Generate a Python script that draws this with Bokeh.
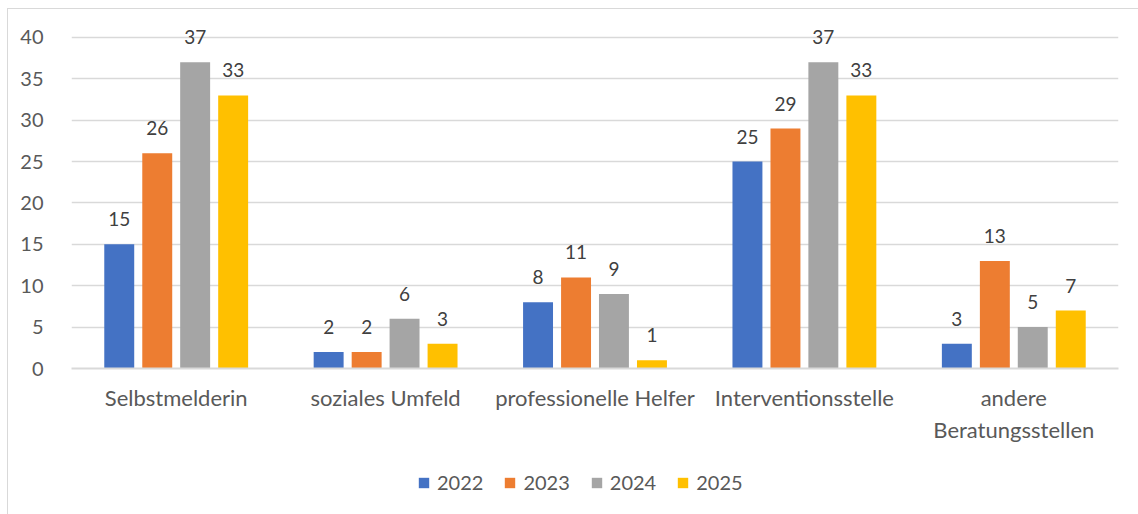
from bokeh.plotting import figure
from bokeh.models import ColumnDataSource, FactorRange, Range1d, FixedTicker, Legend, LegendItem
from bokeh.layouts import column
from bokeh.transform import dodge
from bokeh.core.properties import value
from bokeh.embed import file_html
from bokeh.resources import INLINE

categories = ["Selbstmelderin", "soziales Umfeld", "professionelle Helfer",
              "Interventionsstelle", "andere\nBeratungsstellen"]
years = ["2022", "2023", "2024", "2025"]
v2022 = [15, 2, 8, 25, 3]
v2023 = [26, 2, 11, 29, 13]
v2024 = [37, 6, 9, 37, 5]
v2025 = [33, 3, 1, 33, 7]
y_ticks = [0, 5, 10, 15, 20, 25, 30, 35, 40]

colors = ["#4472C4", "#ED7D31", "#A5A5A5", "#FFC000"]
offsets = [-0.272, -0.0905, 0.0905, 0.272]
FONT = "Lato"

src = ColumnDataSource(dict(
    cat=categories,
    v2022=v2022, v2023=v2023, v2024=v2024, v2025=v2025,
    t2022=[str(v) for v in v2022], t2023=[str(v) for v in v2023],
    t2024=[str(v) for v in v2024], t2025=[str(v) for v in v2025],
))

p = figure(width=1130, height=446, output_backend="svg", toolbar_location=None,
           x_range=FactorRange(*categories, factor_padding=0, range_padding=0),
           y_range=Range1d(0, 42.05),
           min_border_left=63, min_border_right=20, min_border_top=11, min_border_bottom=87)
p.outline_line_color = None
p.background_fill_color = "white"
p.border_fill_color = "white"

for yr, col, off in zip(years, colors, offsets):
    p.vbar(x=dodge("cat", off, range=p.x_range), top="v" + yr, width=0.143,
           source=src, fill_color=col, line_color=None)
    p.text(x=dodge("cat", off, range=p.x_range), y="v" + yr, text="t" + yr, source=src,
           text_align="center", text_baseline="middle", y_offset=-25,
           text_font=value(FONT), text_font_size="19px", text_color="#404040")

p.yaxis.ticker = FixedTicker(ticks=y_ticks)
p.yaxis.axis_line_color = None
p.yaxis.major_tick_line_color = None
p.yaxis.minor_tick_line_color = None
p.yaxis.major_label_text_font = FONT
p.yaxis.major_label_text_font_size = "20px"
p.yaxis.major_label_text_color = "#595959"
p.yaxis.major_label_standoff = 22

p.xaxis.axis_line_color = "#d9d9d9"
p.xaxis.axis_line_width = 2
p.xaxis.major_tick_line_color = None
p.xaxis.minor_tick_line_color = None
p.xaxis.major_label_text_font = FONT
p.xaxis.major_label_text_font_size = "22px"
p.xaxis.major_label_text_color = "#595959"
p.xaxis.major_label_standoff = 9

p.xgrid.grid_line_color = None
p.ygrid.grid_line_color = "#d9d9d9"
p.ygrid.grid_line_width = 1.5
p.ygrid.ticker = FixedTicker(ticks=y_ticks)

# legend strip below the chart (its swatch renderers sit outside the visible range)
p2 = figure(width=1130, height=59, output_backend="svg", toolbar_location=None,
            x_range=Range1d(0, 1), y_range=Range1d(0, 1),
            x_axis_type=None, y_axis_type=None,
            min_border_left=0, min_border_right=0, min_border_top=0, min_border_bottom=0)
p2.outline_line_color = None
p2.xgrid.grid_line_color = None
p2.ygrid.grid_line_color = None
p2.border_fill_color = "white"

items = []
for yr, col in zip(years, colors):
    r = p2.vbar(x=[-10], top=[0], width=0.1, fill_color=col, line_color=None)
    items.append(LegendItem(label=yr, renderers=[r]))

legend = Legend(items=items, orientation="horizontal", location=(346, 20),
                glyph_width=13, glyph_height=13, label_standoff=7, spacing=20,
                padding=0, margin=0, border_line_color=None, background_fill_alpha=0,
                label_text_font=FONT, label_text_font_size="20px", label_text_color="#595959")
p2.add_layout(legend, "center")

layout = column(p, p2, spacing=0)
layout.styles = {"margin-left": "7px", "margin-top": "8px",
                 "border-top": "1px solid #d9d9d9", "border-left": "1px solid #d9d9d9"}

open("out.html", "w").write(file_html(layout, INLINE))
